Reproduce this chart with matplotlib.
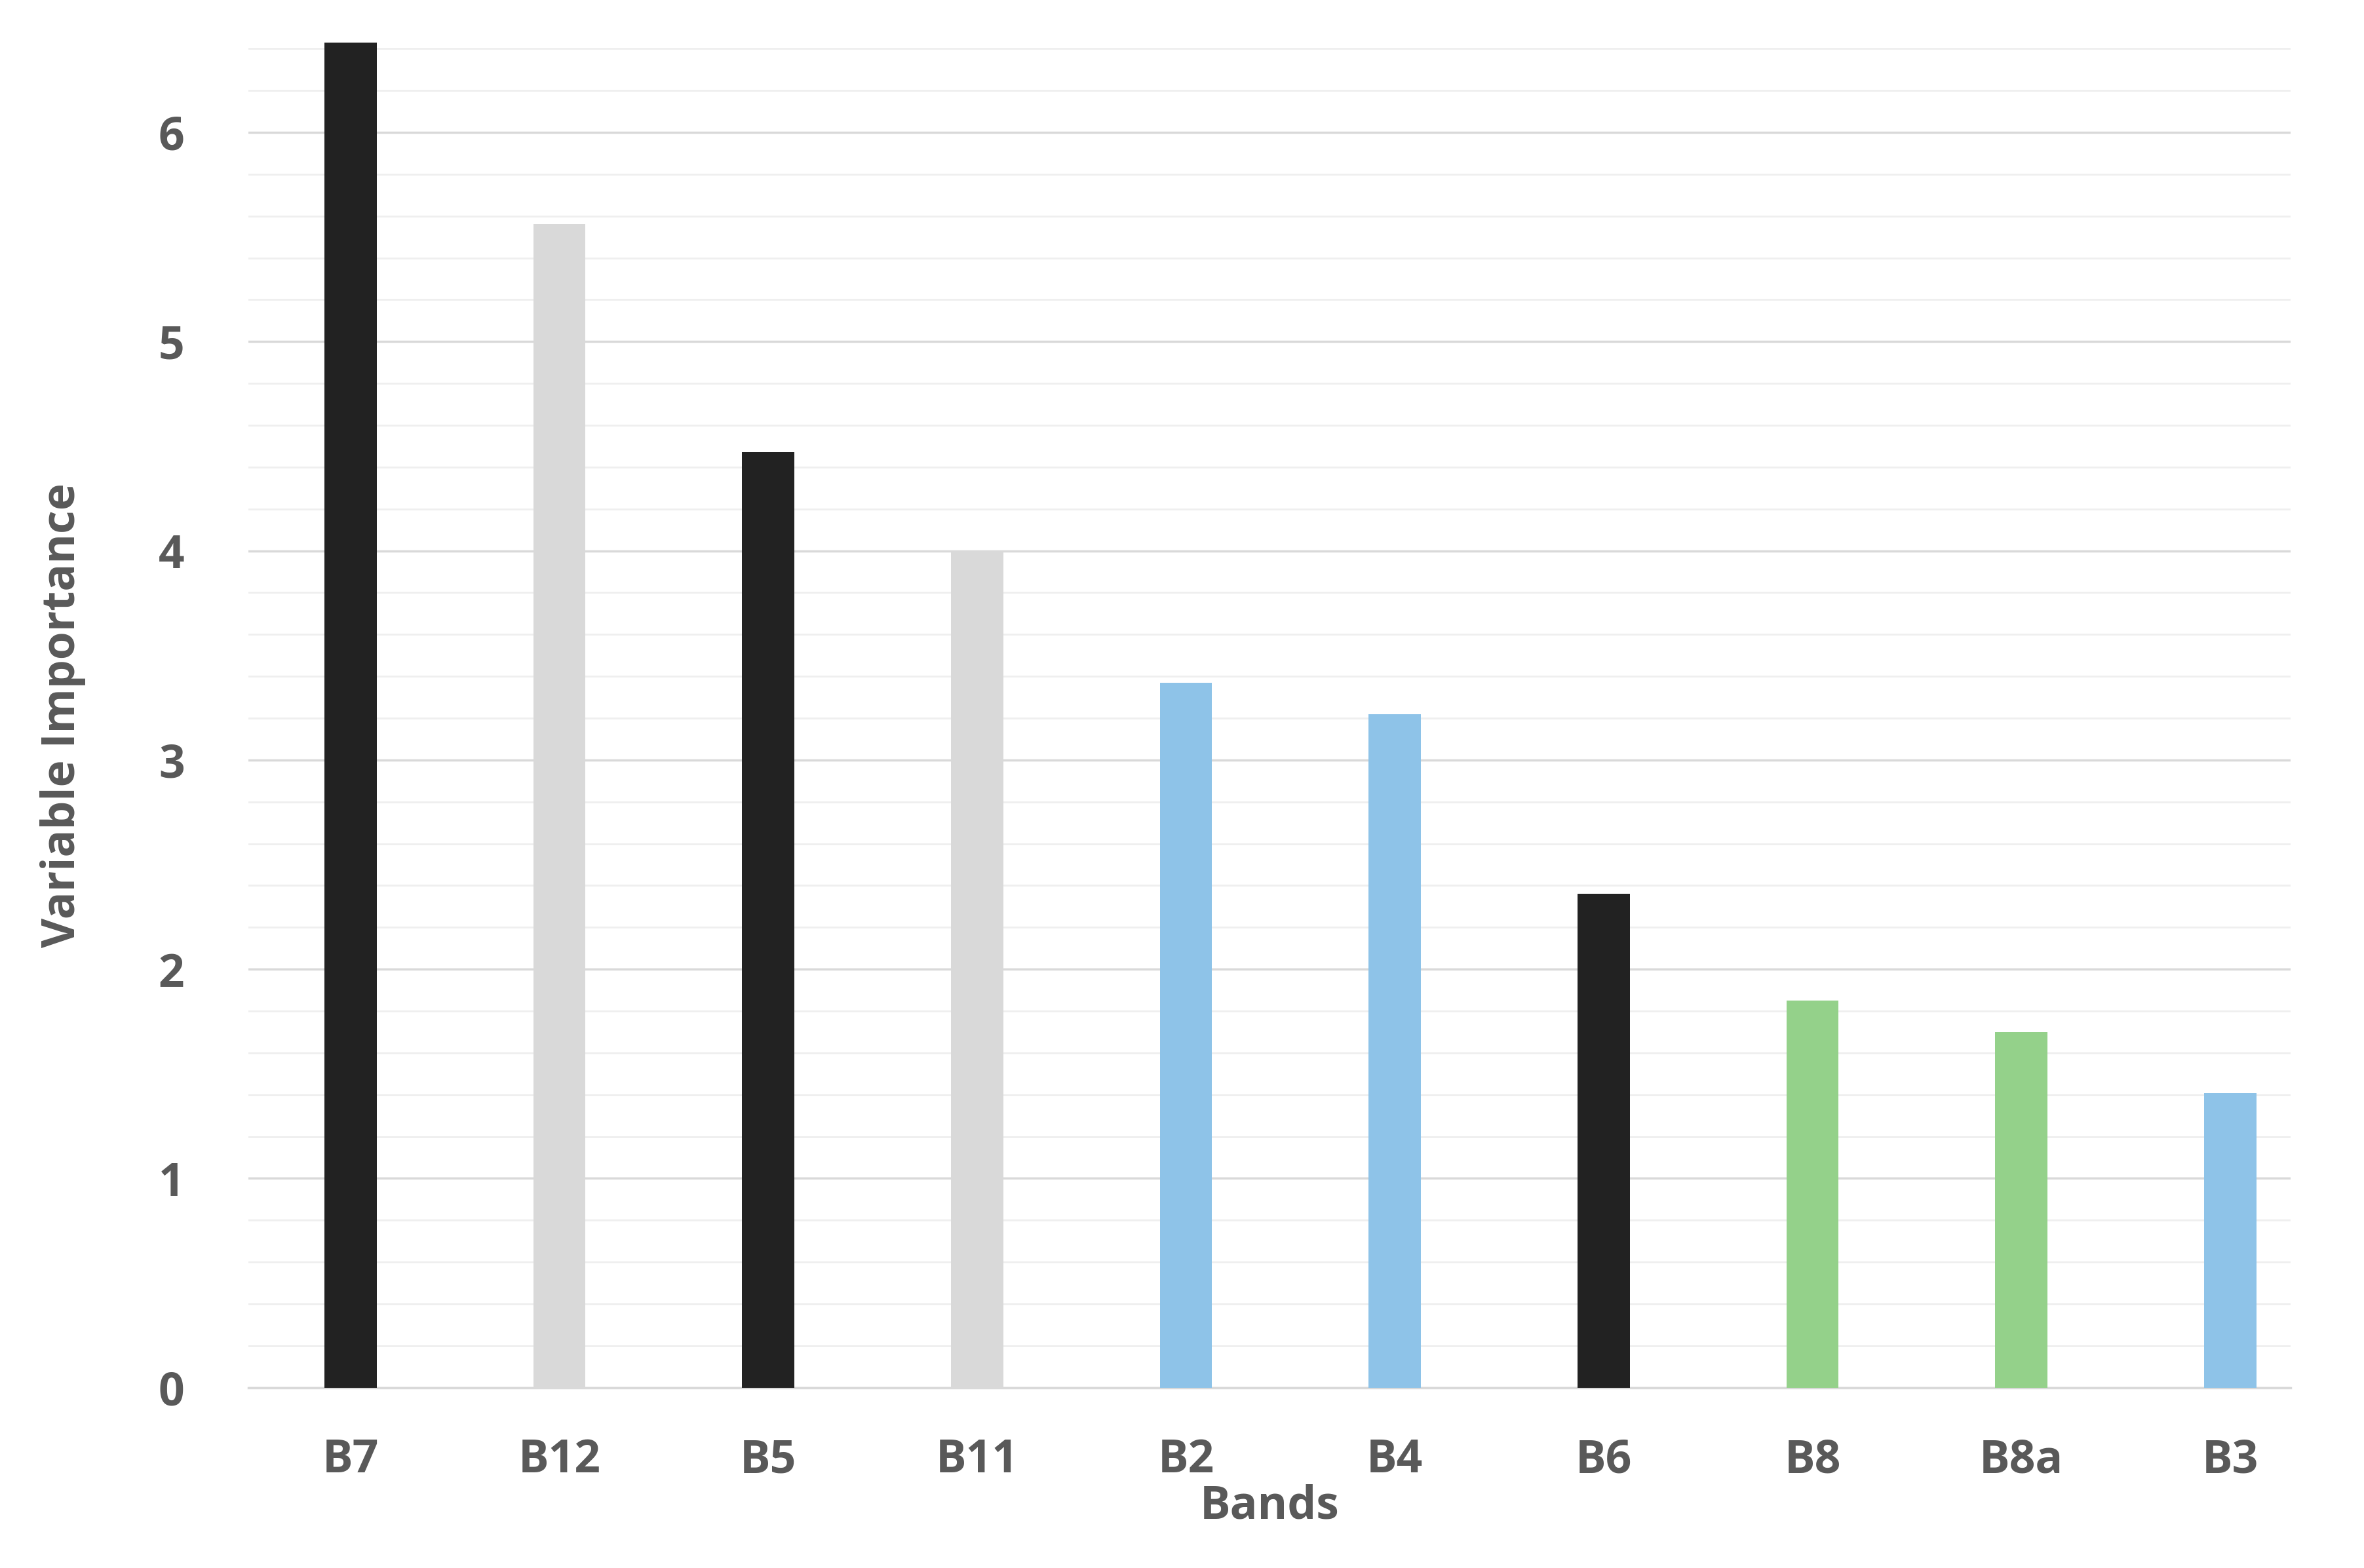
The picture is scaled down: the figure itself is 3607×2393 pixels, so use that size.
import matplotlib
matplotlib.use("Agg")
import matplotlib.pyplot as plt
import numpy as np

bands = ["B7", "B12", "B5", "B11", "B2", "B4", "B6", "B8", "B8a", "B3"]
importance = [6.43, 5.56, 4.47, 4.0, 3.37, 3.22, 2.36, 1.85, 1.70, 1.41]
colors = ["#222222", "#d9d9d9", "#222222", "#d9d9d9", "#8ec3e8",
          "#8ec3e8", "#222222", "#94d18a", "#94d18a", "#8ec3e8"]

plt.rcParams["font.family"] = ["Open Sans", "DejaVu Sans"]
fig = plt.figure(figsize=(36.07, 23.93), dpi=100)
ax = fig.add_axes([0.105, 0.115, 0.864, 0.858])

x = np.arange(len(bands))
ax.bar(x, importance, width=0.25, color=colors, zorder=3)

ax.set_ylim(0, 6.43)
ax.set_xlim(-0.49, len(bands) - 0.71)
ax.set_yticks(range(0, 7))
ax.set_yticks(np.arange(0, 6.41, 0.2), minor=True)
ax.grid(axis="y", which="major", color="#d9d9d9", linewidth=2.5, zorder=0)
ax.grid(axis="y", which="minor", color="#efefef", linewidth=2, zorder=0)
ax.set_xticks(x)
ax.set_xticklabels(bands)
ax.tick_params(axis="x", which="both", length=0, labelsize=50,
               labelcolor="#595959", pad=55)
ax.tick_params(axis="y", which="both", length=0, labelsize=50,
               labelcolor="#595959", pad=70)
for lab in ax.get_xticklabels() + ax.get_yticklabels():
    lab.set_fontweight("bold")
for s in ["top", "right", "left"]:
    ax.spines[s].set_visible(False)
ax.spines["bottom"].set_color("#d9d9d9")
ax.spines["bottom"].set_linewidth(2.5)

ax.set_xlabel("Bands", fontsize=50, fontweight="bold", color="#595959", labelpad=0)
ax.set_ylabel("Variable Importance", fontsize=50, fontweight="bold",
              color="#595959", labelpad=80)

fig.savefig("out.png", dpi=100, facecolor="white")
